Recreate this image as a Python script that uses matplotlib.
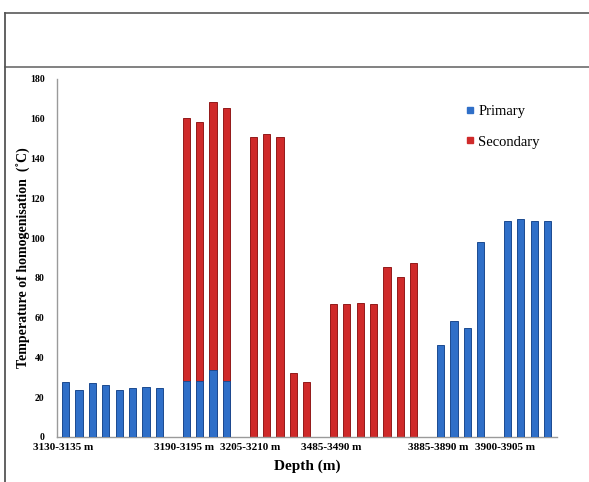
import matplotlib
matplotlib.use("Agg")
import matplotlib.pyplot as plt
from matplotlib.lines import Line2D
import numpy as np

# Homogenisation temperatures of fluid inclusions, grouped by depth interval
depth_groups = ["3130-3135 m", "3190-3195 m", "3205-3210 m",
                "3485-3490 m", "3885-3890 m", "3900-3905 m"]
primary = [
    [27.5, 23.5, 27, 26, 23.5, 24.5, 25, 24.5],
    [28, 28, 33.5, 28],
    [],
    [],
    [46.5, 58.5, 55, 98],
    [108.5, 109.5, 108.5, 108.5],
]
secondary = [
    [],
    [160.5, 158.5, 168.5, 165.5],
    [151, 152.5, 151, 32, 27.5],
    [67, 67, 67.5, 67, 85.5, 80.5, 87.5],
    [],
    [],
]
y_ticks = [0, 20, 40, 60, 80, 100, 120, 140, 160, 180]

blue = "#2f6fc8"
blue_edge = "#1c4a90"
red = "#cf2a2a"
red_edge = "#931a1a"
serif = ["Liberation Serif", "DejaVu Serif"]

fig = plt.figure(figsize=(5.89, 4.82), dpi=100)
W, H = 589, 482
ax = fig.add_axes([57 / W, 45 / H, 500 / W, 358 / H])

bar_w = 0.54
slot = 0
label_pos = []
for name, p_vals, s_vals in zip(depth_groups, primary, secondary):
    n = max(len(p_vals), len(s_vals))
    xs = np.arange(slot, slot + n)
    label_pos.append(slot)
    if s_vals:
        ax.bar(xs[:len(s_vals)], s_vals, width=bar_w, color=red,
               edgecolor=red_edge, linewidth=0.7, zorder=2)
    if p_vals:
        ax.bar(xs[:len(p_vals)], p_vals, width=bar_w, color=blue,
               edgecolor=blue_edge, linewidth=0.7, zorder=3)
    slot += n + 1

ax.set_xlim(-0.65, 36.7)
ax.set_ylim(0, 180)
ax.set_yticks(y_ticks)
ax.set_yticklabels([str(t) for t in y_ticks], family=serif,
                   fontweight="bold", fontsize=7)
ax.set_xticks(np.array(label_pos) - 0.2)
ax.set_xticklabels(depth_groups, family=serif, fontweight="bold",
                   fontsize=8)
ax.tick_params(axis="both", length=0)
ax.tick_params(axis="y", pad=9)
ax.tick_params(axis="x", pad=4)

for s in ("top", "right"):
    ax.spines[s].set_visible(False)
ax.spines["left"].set_color("#9a9a9a")
ax.spines["bottom"].set_color("#9a9a9a")
ax.spines["left"].set_linewidth(1.0)
ax.spines["bottom"].set_linewidth(1.0)

ax.set_xlabel("Depth (m)", family=serif, fontweight="bold", fontsize=11,
              labelpad=6)
ax.set_ylabel("Temperature of homogenisation  (\u02daC)", family=serif,
              fontweight="bold", fontsize=10, labelpad=-1)

handles = [Line2D([], [], marker="s", linestyle="none", markersize=5,
                  markerfacecolor=blue, markeredgecolor=blue),
           Line2D([], [], marker="s", linestyle="none", markersize=5,
                  markerfacecolor=red, markeredgecolor=red)]
leg = ax.legend(handles, ["Primary", "Secondary"], loc="upper left",
                bbox_to_anchor=(0.79, 0.965), frameon=False,
                prop={"family": serif, "size": 10.5},
                handlelength=0.6, handletextpad=0.3, labelspacing=1.2)

# Frame lines around the figure panel
fig.add_artist(Line2D([5 / W, 1], [1 - 13 / H, 1 - 13 / H],
                      transform=fig.transFigure, color="#666666", lw=1.3))
fig.add_artist(Line2D([5 / W, 1], [1 - 67 / H, 1 - 67 / H],
                      transform=fig.transFigure, color="#777777", lw=1.3))
fig.add_artist(Line2D([5 / W, 5 / W], [0, 1 - 13 / H],
                      transform=fig.transFigure, color="#555555", lw=1.3))

fig.savefig("out.png", dpi=100)
